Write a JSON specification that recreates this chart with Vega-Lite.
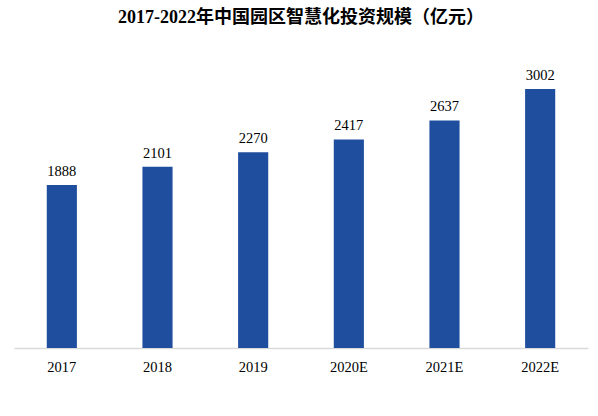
{
  "$schema": "https://vega.github.io/schema/vega-lite/v6.json",
  "width": 574,
  "height": 302,
  "autosize": "none",
  "padding": {"left": 14, "top": 46, "right": 10, "bottom": 68},
  "background": "white",
  "title": {
    "text": "2017-2022年中国园区智慧化投资规模（亿元）",
    "font": "Liberation Serif, Noto Sans CJK SC",
    "fontSize": 18,
    "fontWeight": "bold",
    "color": "#000000",
    "anchor": "middle",
    "offset": 19
  },
  "data": {
    "values": [
      {"year": "2017", "value": 1888},
      {"year": "2018", "value": 2101},
      {"year": "2019", "value": 2270},
      {"year": "2020E", "value": 2417},
      {"year": "2021E", "value": 2637},
      {"year": "2022E", "value": 3002}
    ]
  },
  "config": {"view": {"stroke": null}},
  "encoding": {
    "x": {
      "field": "year",
      "type": "ordinal",
      "sort": null,
      "scale": {"paddingInner": 0.685, "paddingOuter": 0.3425},
      "axis": {
        "title": null,
        "labelAngle": 0,
        "labelFont": "Liberation Serif",
        "labelFontSize": 14.5,
        "labelColor": "#000000",
        "labelPadding": 12,
        "ticks": false,
        "domainColor": "#d9d9d9",
        "domainWidth": 1.5
      }
    },
    "y": {
      "field": "value",
      "type": "quantitative",
      "scale": {"domain": [0, 3500], "nice": false},
      "axis": null
    }
  },
  "layer": [
    {"mark": {"type": "bar", "color": "#1f4e9f"}},
    {
      "mark": {"type": "text", "baseline": "bottom", "dy": -6, "font": "Liberation Serif", "fontSize": 14.5, "color": "#000000"},
      "encoding": {"text": {"field": "value", "type": "quantitative"}}
    }
  ]
}
